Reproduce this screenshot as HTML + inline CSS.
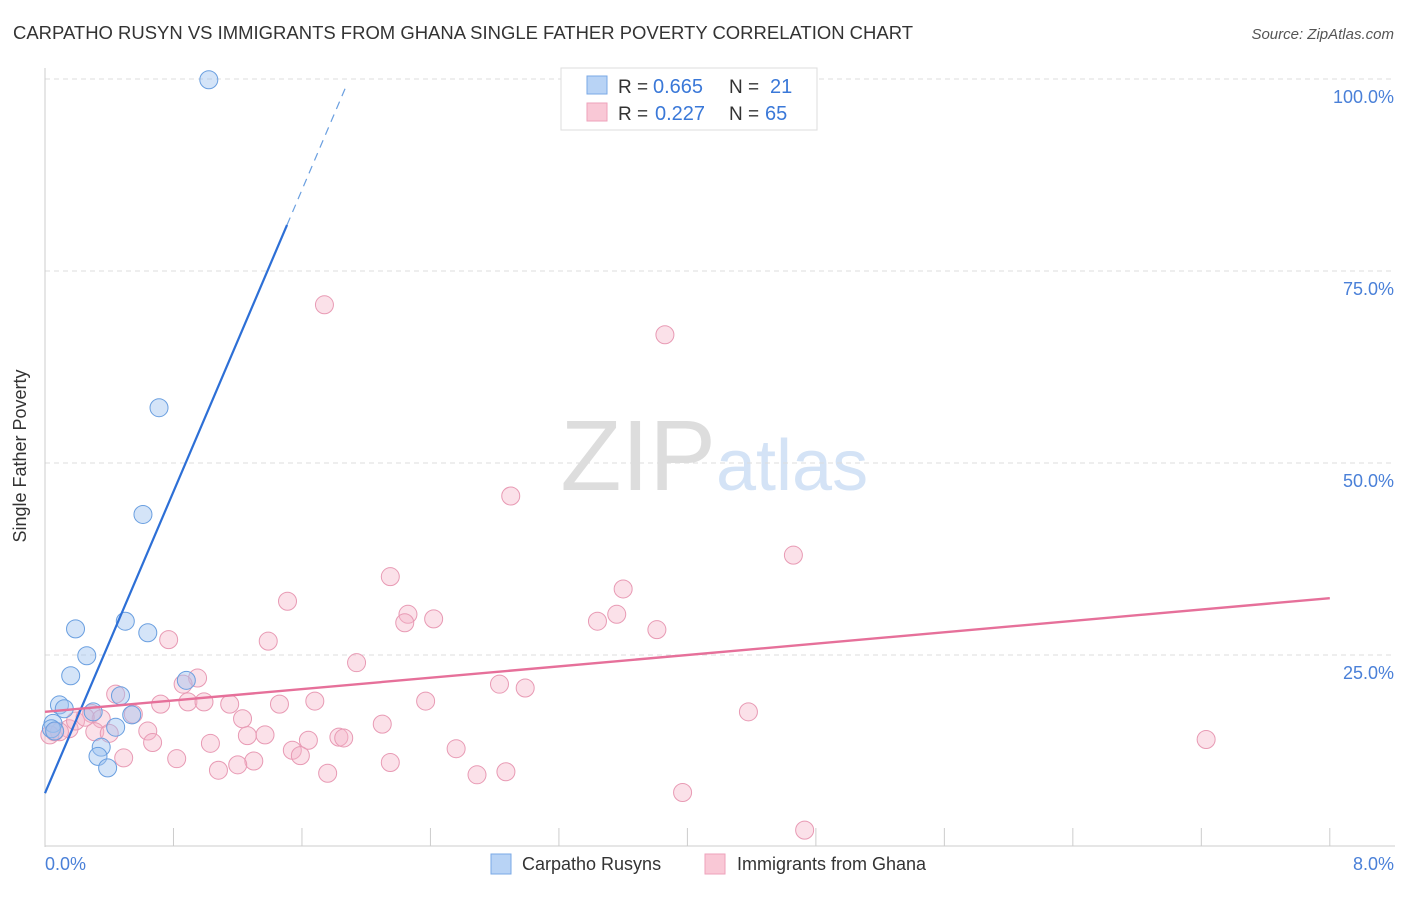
<!DOCTYPE html>
<html><head><meta charset="utf-8"><style>
body{margin:0;background:#fff;font-family:"Liberation Sans",sans-serif}
svg text{font-family:"Liberation Sans",sans-serif}
</style></head><body>
<svg width="1406" height="892">
<text x="13" y="39" font-size="18" fill="#333" textLength="900" lengthAdjust="spacingAndGlyphs">CARPATHO RUSYN VS IMMIGRANTS FROM GHANA SINGLE FATHER POVERTY CORRELATION CHART</text>
<text x="1394" y="39" font-size="15" fill="#555" text-anchor="end" font-style="italic">Source: ZipAtlas.com</text>
<text x="716" y="490" font-size="100" fill="#ddd" text-anchor="end" font-family="Liberation Serif">ZIP</text>
<text x="716" y="490" font-size="72" fill="#d4e3f6">atlas</text>
<g id="grid"></g>
<line x1="45" y1="68" x2="45" y2="847" stroke="#ccc"/>
<line x1="45" y1="846" x2="1395" y2="846" stroke="#ccc"/>
<text x="26" y="456" font-size="18" fill="#333" text-anchor="middle" transform="rotate(-90 26 456)">Single Father Poverty</text>
<text x="45" y="870" font-size="18" fill="#4a80d8">0.0%</text>
<text x="1394" y="870" font-size="18" fill="#4a80d8" text-anchor="end">8.0%</text>
<g id="pts"></g>
<g id="lines"></g>
<g>
<rect x="561" y="68" width="256" height="62" fill="#fff" stroke="#ddd"/>
<rect x="587" y="76" width="20" height="18" fill="#b8d3f5" stroke="#7aa8e6"/>
<rect x="587" y="103" width="20" height="18" fill="#f9c8d6" stroke="#eea2bb"/>
<text x="618" y="93" font-size="19" fill="#333">R =</text>
<text x="653" y="93" font-size="20" fill="#3a78d8">0.665</text>
<text x="729" y="93" font-size="19" fill="#333">N =</text>
<text x="770" y="93" font-size="20" fill="#3a78d8">21</text>
<text x="618" y="120" font-size="19" fill="#333">R =</text>
<text x="655" y="120" font-size="20" fill="#3a78d8">0.227</text>
<text x="729" y="120" font-size="19" fill="#333">N =</text>
<text x="765" y="120" font-size="20" fill="#3a78d8">65</text>
</g>
<g>
<rect x="491" y="854" width="20" height="20" fill="#b8d3f5" stroke="#7aa8e6"/>
<text x="522" y="870" font-size="18" fill="#333">Carpatho Rusyns</text>
<rect x="705" y="854" width="20" height="20" fill="#f9c8d6" stroke="#eea2bb"/>
<text x="737" y="870" font-size="18" fill="#333">Immigrants from Ghana</text>
</g>
</svg>
<script>
const yTicks=[100,75,50,25];
const xTickVals=[0.8,1.6,2.4,3.2,4.0,4.8,5.6,6.4,7.2,8.0];
const blueX=[1.02,0.71,0.61,0.50,0.64,0.19,0.26,0.16,0.88,0.47,0.09,0.12,0.30,0.54,0.44,0.05,0.04,0.35,0.33,0.39,0.06];
const blueY=[99.9,57.2,43.3,29.4,27.9,28.4,24.9,22.3,21.7,19.7,18.5,18.0,17.6,17.2,15.6,16.1,15.4,13.0,11.8,10.3,15.1];
const pinkX=[1.74,3.86,2.90,4.66,2.15,3.60,1.51,2.26,2.42,2.24,3.44,3.56,3.81,0.77,1.39,1.94,0.95,0.86,2.83,2.99,0.44,0.72,0.89,0.99,1.15,1.46,1.68,2.37,4.38,0.29,0.55,0.35,1.23,2.10,0.64,0.31,0.15,0.09,0.40,1.37,1.26,1.83,1.86,1.64,0.67,1.03,1.54,2.56,1.59,0.49,0.82,1.30,1.20,2.15,1.08,1.76,2.69,2.87,7.23,3.97,4.73,0.03,0.06,0.19,0.25];
const pinkY=[70.6,66.7,45.7,38.0,35.2,33.6,32.0,30.3,29.7,29.2,29.4,30.3,28.3,27.0,26.8,24.0,22.0,21.2,21.2,20.7,19.9,18.6,18.9,18.9,18.6,18.6,19.0,19.0,17.6,17.4,17.3,16.7,16.7,16.0,15.1,15.0,15.4,15.0,14.8,14.6,14.5,14.3,14.2,13.9,13.6,13.5,12.6,12.8,11.9,11.6,11.5,11.2,10.7,11.0,10.0,9.6,9.4,9.8,14.0,7.1,2.2,14.6,15.0,16.4,16.9];
const blueLine=[7.0,49.1]; // intercept, slope (per 1%)
const pinkLine=[17.6,1.85];
const NS="http://www.w3.org/2000/svg";
const X=v=>45+v*160.6, Y=v=>847-v*7.68;
function mk(tag,attrs,parent){const e=document.createElementNS(NS,tag);for(const k in attrs)e.setAttribute(k,attrs[k]);parent.appendChild(e);return e;}
const grid=document.getElementById('grid');
yTicks.forEach(t=>{
 const l=mk('line',{x1:45,x2:1395,y1:Y(t),y2:Y(t),stroke:'#ddd','stroke-dasharray':'5,4'},grid);
 
 
 const tx=mk('text',{x:1394,y:Y(t)+24,'font-size':18,fill:'#4a80d8','text-anchor':'end'},grid);
 tx.textContent=t.toFixed(1)+'%';
 
 
});
xTickVals.forEach(t=>{
 const l=mk('line',{x1:X(t),x2:X(t),y1:828,y2:846,stroke:'#ccc'},grid);
 
 
});
const pts=document.getElementById('pts');
pinkX.forEach((x,i)=>{
 const c=mk('circle',{cx:X(x),cy:Y(pinkY[i]),r:9,fill:'rgba(246,180,200,0.4)',stroke:'#e89ab4','stroke-width':1},pts);
 
 
});
blueX.forEach((x,i)=>{
 const c=mk('circle',{cx:X(x),cy:Y(blueY[i]),r:9,fill:'rgba(160,196,240,0.45)',stroke:'#6a9fe0','stroke-width':1},pts);
 
 
});
const lines=document.getElementById('lines');
const bx1=(81-blueLine[0])/blueLine[1], bx2=(99-blueLine[0])/blueLine[1];
let l=mk('line',{x1:X(0),y1:Y(blueLine[0]),x2:X(bx1),y2:Y(blueLine[0]+blueLine[1]*bx1),stroke:'#2d6fd6','stroke-width':2.2},lines);


l=mk('line',{x1:X(bx1),y1:Y(blueLine[0]+blueLine[1]*bx1),x2:X(bx2),y2:Y(blueLine[0]+blueLine[1]*bx2),stroke:'#6a9fe0','stroke-width':1.2,'stroke-dasharray':'8,6'},lines);


l=mk('line',{x1:X(0),y1:Y(pinkLine[0]),x2:X(8),y2:Y(pinkLine[0]+pinkLine[1]*8),stroke:'#e6709a','stroke-width':2.4},lines);


</script>
</body></html>
